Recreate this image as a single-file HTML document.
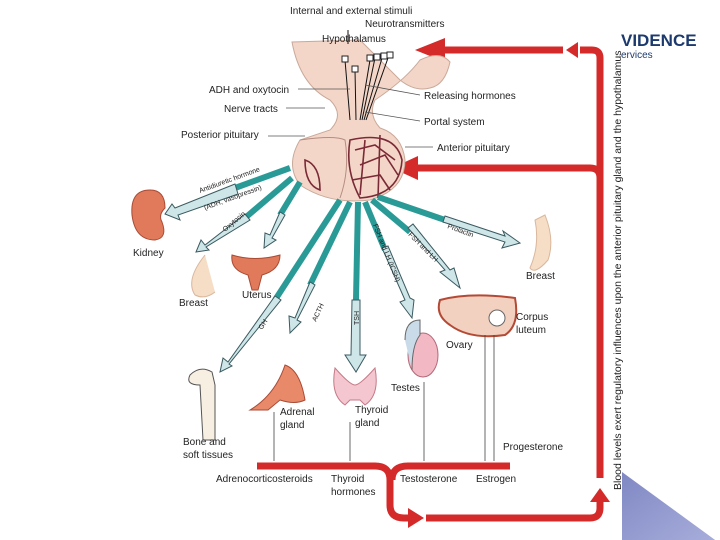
<!DOCTYPE html>
<html><head><meta charset="utf-8"><style>
html,body{margin:0;padding:0;background:#fff;width:720px;height:540px;overflow:hidden}
svg{display:block}
text{font-family:"Liberation Sans",sans-serif;fill:#222}
</style></head><body>
<svg width="720" height="540" viewBox="0 0 720 540" xmlns="http://www.w3.org/2000/svg">
<defs>
<linearGradient id="tri" x1="0" y1="0" x2="1" y2="1"><stop offset="0" stop-color="#8088c4"/><stop offset="1" stop-color="#aab0dc"/></linearGradient>
</defs>
<!-- logo -->
<text x="621" y="46" font-size="17" font-weight="bold" style="fill:#1c3a6e">VIDENCE</text>
<text x="621" y="58" font-size="10" style="fill:#1c3a6e">ervices</text>
<polygon points="622,472 722,545 622,545" fill="url(#tri)"/>

<!-- red feedback -->
<g stroke="#d42a2a" fill="none" stroke-width="7">
<path d="M600,478 V58 Q600,50 592,50 H580"/>
<path d="M600,178 Q600,168 590,168 H410"/>
<path d="M563,50 H440"/>
<path d="M257,466 H375 Q390,466 390,480 V505 Q390,518 404,518 H412"/>
<path d="M510,466 H408 Q392,466 392,480"/>
<path d="M426,518 H590 Q600,518 600,508 V500"/>
</g>
<g fill="#d42a2a">
<polygon points="566,42 566,58 578,50" transform="rotate(180 572 50)"/>
<polygon points="415,50 445,38 445,62"/>
<polygon points="392,168 418,156 418,180"/>
<polygon points="424,518 408,508 408,528"/>
<polygon points="600,488 590,502 610,502"/>
</g>
<text transform="translate(621,490) rotate(-90)" font-size="10.5">Blood levels exert regulatory influences upon the anterior pituitary gland and the hypothalamus</text>

<!-- hypothalamus / pituitary -->
<path d="M292,42 Q300,85 330,100 Q345,115 330,130 L300,140 Q285,165 300,185 Q330,205 370,200 Q405,190 405,160 Q402,135 380,128 Q368,115 375,100 Q405,80 420,60 Q440,50 450,62 Q445,85 430,88 Q415,92 400,80 L360,40 Z" fill="#f4d6c8" stroke="#c9a99a" stroke-width="1"/>
<path d="M300,140 Q335,135 345,140 Q350,170 340,198" fill="none" stroke="#b58d82"/>
<g fill="none" stroke="#7a2a36" stroke-width="1.6">
<path d="M350,140 Q395,130 402,160 Q400,195 360,198 Q345,170 350,140Z"/>
<path d="M355,150 L375,145 L395,160 M360,165 L385,155 L398,175 M352,180 L380,175 L390,190 M365,140 L360,195 M380,135 L378,198"/>
<path d="M305,160 Q320,165 320,190 Q305,185 305,160Z"/>
</g>
<g stroke="#111" stroke-width="1" fill="none">
<path d="M345,60 L350,120 M355,70 L356,120 M370,60 L360,120 M375,58 L362,120 M382,58 L364,120 M388,58 L366,120"/>
<path d="M348,30 V44"/>
</g>
<g fill="#fff" stroke="#222"><rect x="342" y="56" width="6" height="6"/><rect x="352" y="66" width="6" height="6"/><rect x="367" y="55" width="6" height="6"/><rect x="374" y="54" width="6" height="6"/><rect x="381" y="53" width="6" height="6"/><rect x="387" y="52" width="6" height="6"/></g>

<!-- leader lines -->
<g stroke="#555" stroke-width="0.8">
<line x1="298" y1="89" x2="350" y2="89"/><line x1="286" y1="108" x2="325" y2="108"/>
<line x1="268" y1="136" x2="305" y2="136"/><line x1="365" y1="85" x2="420" y2="95"/>
<line x1="365" y1="112" x2="420" y2="121"/><line x1="405" y1="147" x2="433" y2="147"/>
</g>

<!-- teal arrows -->
<g stroke="#2a9a97" stroke-width="6" fill="none" stroke-linecap="butt">
<line x1="290" y1="168" x2="235" y2="188"/>
<line x1="292" y1="178" x2="245" y2="218"/>
<line x1="300" y1="182" x2="280" y2="215"/>
<line x1="340" y1="200" x2="275" y2="300"/>
<line x1="350" y1="202" x2="310" y2="285"/>
<line x1="358" y1="202" x2="356" y2="300"/>
<line x1="365" y1="202" x2="385" y2="250"/>
<line x1="372" y1="200" x2="410" y2="232"/>
<line x1="378" y1="197" x2="445" y2="220"/>
</g>
<g stroke="#3a5a60" stroke-width="1" fill="#cfe6e8">
<polygon points="235,184 175,208 172,204 165,214 180,220 178,215 238,194"/>
<polygon points="245,214 205,245 201,240 196,252 209,250 206,247 250,220"/>
<polygon points="280,212 270,235 265,233 264,248 276,240 272,238 285,215"/>
<polygon points="275,296 228,362 223,358 220,372 232,366 229,364 281,300"/>
<polygon points="310,282 295,318 289,316 290,333 301,322 297,320 315,285"/>
<polygon points="352,300 351,355 345,355 356,372 366,355 360,355 360,300"/>
<polygon points="382,248 405,300 400,302 412,318 414,300 410,298 388,246"/>
<polygon points="408,228 445,270 440,272 460,288 454,268 450,270 413,224"/>
<polygon points="445,216 505,236 503,231 520,243 502,248 505,242 443,222"/>
</g>
<g font-size="7" fill="#222">
<text transform="translate(200,193) rotate(-20)">Antidiuretic hormone</text>
<text transform="translate(205,210) rotate(-20)">(ADH, vasopressin)</text>
<text transform="translate(225,232) rotate(-40)">Oxytocin</text>
<text transform="translate(262,330) rotate(-57)">GH</text>
<text transform="translate(316,322) rotate(-65)">ACTH</text>
<text transform="translate(359,325) rotate(-90)">TSH</text>
<text transform="translate(373,225) rotate(68)">FSH and LH (ICSH)</text>
<text transform="translate(408,235) rotate(45)">FSH and LH</text>
<text transform="translate(447,228) rotate(20)">Prolactin</text>
</g>

<!-- organs -->
<path d="M150,190 Q130,190 132,215 Q135,240 155,240 Q168,238 162,222 Q158,215 165,208 Q165,190 150,190Z" fill="#e07a5a" stroke="#a94a35"/>
<path d="M205,255 Q185,280 195,295 Q205,300 215,292" fill="#f6ddc6" stroke="#d9b79c"/>
<path d="M232,255 Q255,262 280,255 Q280,270 262,275 L258,290 L252,290 L248,275 Q230,270 232,255Z" fill="#e07a5a" stroke="#a94a35"/>
<path d="M545,215 Q555,240 548,260 Q535,275 530,268 Q540,245 535,220Z" fill="#f6ddc6" stroke="#d9b79c"/>
<path d="M440,300 Q470,292 515,298 Q520,325 505,335 Q470,340 450,325 Q435,315 440,300Z" fill="#f2d1c0" stroke="#b44a35" stroke-width="2"/>
<circle cx="497" cy="318" r="8" fill="#fff" stroke="#666"/>
<ellipse cx="423" cy="355" rx="15" ry="22" fill="#f2b8c4" stroke="#b36a7a"/>
<path d="M405,340 Q405,320 420,320 L420,335 Q412,345 412,370" fill="#c9dbe8" stroke="#666"/>
<path d="M190,375 Q200,365 212,372 L215,385 L215,440 L203,440 L200,385 Q185,385 190,375Z" fill="#f8efe3" stroke="#555"/>
<path d="M250,410 Q275,395 285,365 Q300,370 305,400 Q295,405 280,400 L268,410Z" fill="#e88a6a" stroke="#a94a35"/>
<path d="M335,368 Q330,395 345,405 L350,400 L360,400 L365,405 Q380,395 375,368 Q360,385 355,385 Q350,385 335,368Z" fill="#f4c6cf" stroke="#c47a88"/>

<!-- thin arrows -->
<g stroke="#444" stroke-width="0.8">
<line x1="274" y1="412" x2="274" y2="461"/><line x1="350" y1="422" x2="350" y2="461"/>
<line x1="424" y1="382" x2="424" y2="461"/><line x1="485" y1="335" x2="485" y2="461"/><line x1="494" y1="335" x2="494" y2="461"/>
</g>

<!-- labels -->
<g font-size="10">
<text x="290" y="14">Internal and external stimuli</text>
<text x="365" y="27">Neurotransmitters</text>
<text x="322" y="42">Hypothalamus</text>
<text x="209" y="93">ADH and oxytocin</text>
<text x="224" y="112">Nerve tracts</text>
<text x="181" y="138">Posterior pituitary</text>
<text x="424" y="99">Releasing hormones</text>
<text x="424" y="125">Portal system</text>
<text x="437" y="151">Anterior pituitary</text>
<text x="133" y="256">Kidney</text>
<text x="179" y="306">Breast</text>
<text x="242" y="298">Uterus</text>
<text x="526" y="279">Breast</text>
<text x="516" y="320">Corpus</text>
<text x="516" y="333">luteum</text>
<text x="446" y="348">Ovary</text>
<text x="391" y="391">Testes</text>
<text x="183" y="445">Bone and</text>
<text x="183" y="458">soft tissues</text>
<text x="280" y="415">Adrenal</text>
<text x="280" y="428">gland</text>
<text x="355" y="413">Thyroid</text>
<text x="355" y="426">gland</text>
<text x="503" y="450">Progesterone</text>
<text x="216" y="482">Adrenocorticosteroids</text>
<text x="331" y="482">Thyroid</text>
<text x="331" y="495">hormones</text>
<text x="400" y="482">Testosterone</text>
<text x="476" y="482">Estrogen</text>
</g>
</svg>
</body></html>
